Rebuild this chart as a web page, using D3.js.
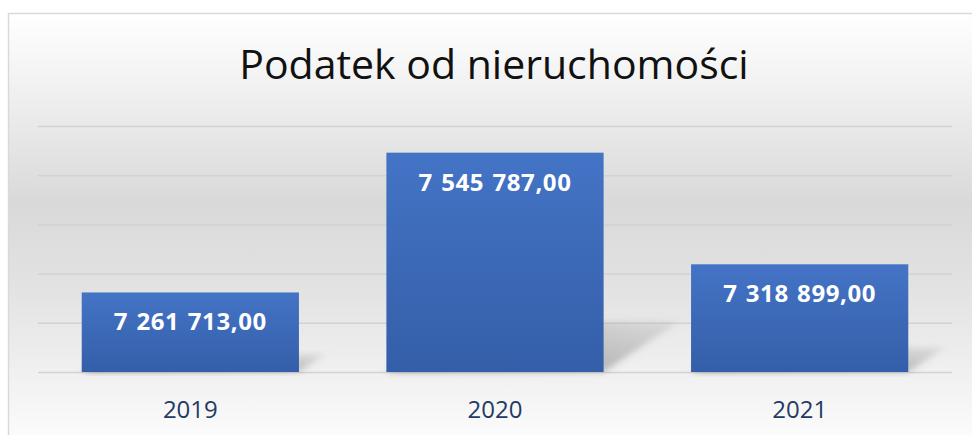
<!DOCTYPE html>
<html>
<head>
<meta charset="utf-8">
<script src="https://cdn.jsdelivr.net/npm/d3@7"></script>
<style>
  html, body { margin: 0; padding: 0; background: #fff; overflow: hidden; }
  svg { display: block; }
</style>
</head>
<body>
<svg id="chart" width="972" height="435"></svg>
<script>
// chart data
const years = ['2019', '2020', '2021'];
const amounts = [7261713.00, 7545787.00, 7318899.00];
const gridTicks = [7100000, 7200000, 7300000, 7400000, 7500000, 7600000];
const title = 'Podatek od nieruchomości';

const width = 972, height = 435;
const svg = d3.select('#chart');
const defs = svg.append('defs');

// background gradient (Excel style gray band)
const bg = defs.append('linearGradient')
  .attr('id', 'bg').attr('gradientUnits', 'userSpaceOnUse')
  .attr('x1', 0).attr('x2', 0).attr('y1', 13).attr('y2', 435);
[[0, '#ffffff'], [0.2, '#efefef'], [0.45, '#d9d9d9'], [0.66, '#e3e3e3'], [0.85, '#f0f0f0'], [1, '#fbfbfb']]
  .forEach(([o, c]) => bg.append('stop').attr('offset', o).attr('stop-color', c));

// bar gradient
const barGrad = defs.append('linearGradient')
  .attr('id', 'barGrad').attr('x1', 0).attr('x2', 0).attr('y1', 0).attr('y2', 1);
barGrad.append('stop').attr('offset', 0).attr('stop-color', '#4474c6');
barGrad.append('stop').attr('offset', 1).attr('stop-color', '#345ea8');

// shadow gradient + blur
const shGrad = defs.append('linearGradient')
  .attr('id', 'shGrad').attr('x1', 0).attr('x2', 1).attr('y1', 1).attr('y2', 0);
shGrad.append('stop').attr('offset', 0).attr('stop-color', '#888').attr('stop-opacity', 0.8);
shGrad.append('stop').attr('offset', 1).attr('stop-color', '#888').attr('stop-opacity', 0.15);
defs.append('filter').attr('id', 'blur')
  .attr('x', '-20%').attr('y', '-20%').attr('width', '140%').attr('height', '140%')
  .append('feGaussianBlur').attr('stdDeviation', 3);

// frame
svg.append('rect')
  .attr('x', 8.5).attr('y', 13.5)
  .attr('width', width + 20).attr('height', height + 20)
  .attr('fill', 'url(#bg)')
  .attr('stroke', '#d9d9d9').attr('stroke-width', 1.5);

// scales
const x = d3.scaleBand()
  .domain(years)
  .range([38, 952])
  .paddingInner(0.287)
  .paddingOuter(0.1435);

const y = d3.scaleLinear()
  .domain([7100000, 7600000])
  .range([372, 126]);

// gridlines
svg.append('g')
  .attr('transform', 'translate(38,0)')
  .call(d3.axisLeft(y).tickValues(gridTicks).tickSize(-(952 - 38)).tickFormat(''))
  .call(g => g.select('.domain').remove())
  .call(g => g.selectAll('.tick line').attr('stroke', '#d2d2d2').attr('stroke-width', 1.5));

// perspective shadows
svg.append('g').selectAll('path')
  .data(amounts)
  .join('path')
  .attr('filter', 'url(#blur)')
  .attr('fill', 'url(#shGrad)')
  .attr('d', (d, i) => {
    const x0 = x(years[i]), x1 = x0 + x.bandwidth();
    const base = y.range()[0];
    const h = (base - y(d)) * 0.23;
    const dx = h * 1.5;
    return `M${x0},${base}L${x1},${base}L${x1 + dx},${base - h}L${x0 + dx},${base - h}Z`;
  });

// bars
svg.append('g').selectAll('rect')
  .data(amounts)
  .join('rect')
  .attr('x', (d, i) => x(years[i]))
  .attr('y', d => y(d))
  .attr('width', x.bandwidth())
  .attr('height', d => y.range()[0] - y(d))
  .attr('fill', 'url(#barGrad)');

// value labels (Polish number format)
const pl = d3.formatLocale({ decimal: ',', thousands: ' ', grouping: [3], currency: ['', ' zł'] });
const fmt = pl.format(',.2f');
svg.append('g').selectAll('text')
  .data(amounts)
  .join('text')
  .attr('x', (d, i) => x(years[i]) + x.bandwidth() / 2)
  .attr('y', d => y(d) + 38)
  .attr('text-anchor', 'middle')
  .attr('font-family', '"Open Sans", sans-serif')
  .attr('font-weight', 700)
  .attr('font-size', 24)
  .attr('letter-spacing', 0.6)
  .attr('word-spacing', 1.5)
  .attr('fill', '#ffffff')
  .text(d => fmt(d));

// category labels
svg.append('g').selectAll('text')
  .data(years)
  .join('text')
  .attr('x', d => x(d) + x.bandwidth() / 2)
  .attr('y', 418)
  .attr('text-anchor', 'middle')
  .attr('font-family', '"Open Sans", sans-serif')
  .attr('font-size', 24)
  .attr('fill', '#243a63')
  .text(d => d);

// title
svg.append('text')
  .attr('x', 494)
  .attr('y', 79)
  .attr('text-anchor', 'middle')
  .attr('font-family', '"Open Sans", sans-serif')
  .attr('font-size', 41)
  .attr('fill', '#111')
  .text(title);
</script>
</body>
</html>
